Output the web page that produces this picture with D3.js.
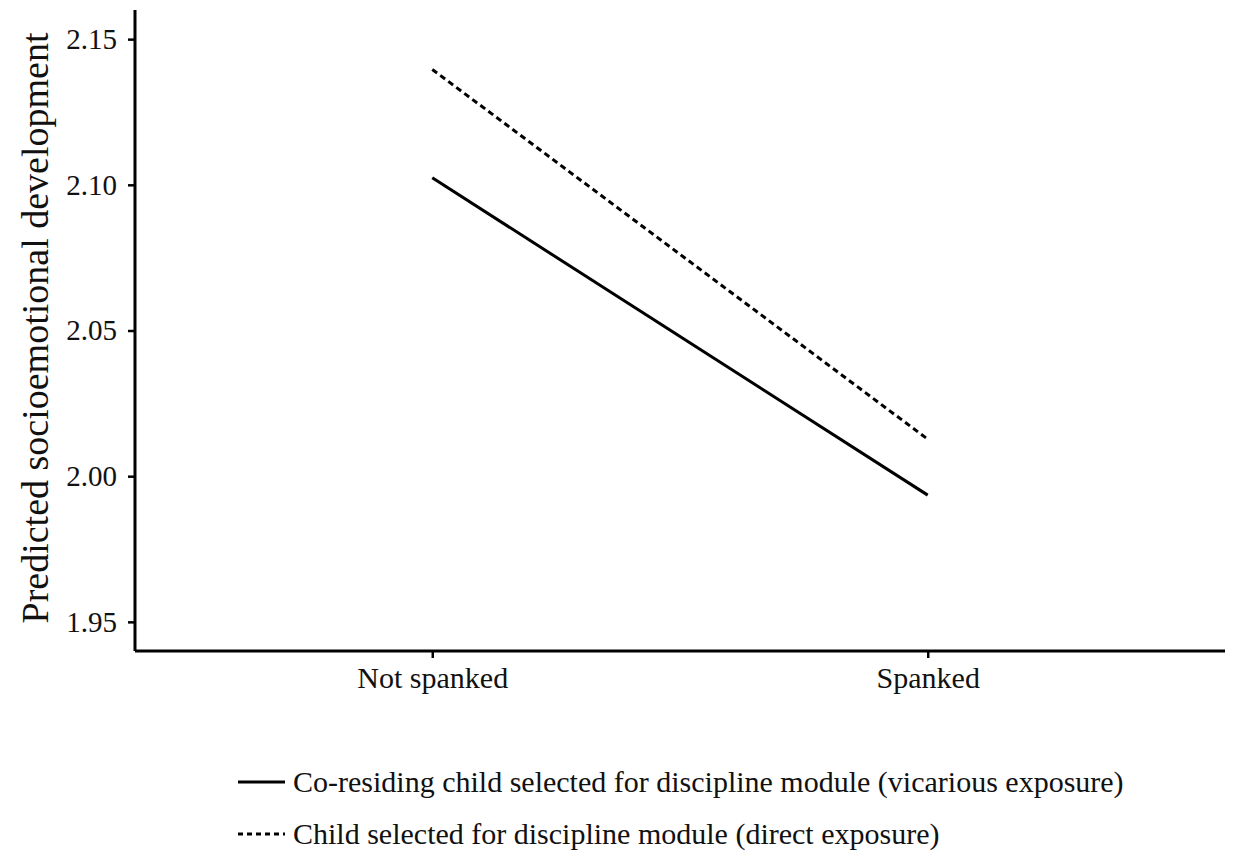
<!DOCTYPE html>
<html>
<head>
<meta charset="utf-8">
<script src="https://cdn.jsdelivr.net/npm/d3@7"></script>
<style>
  body { margin: 0; background: #fff; }
  svg text { font-family: "Liberation Serif", "Times New Roman", serif; fill: #111; }
</style>
</head>
<body>
<svg id="chart" width="1233" height="856"></svg>
<script>
const categories = ["Not spanked", "Spanked"];
const vicarious = [2.1024, 1.9935];
const direct = [2.1396, 2.0127];
const yTicks = [1.95, 2.00, 2.05, 2.10, 2.15];
const seriesNames = [
  "Co-residing child selected for discipline module (vicarious exposure)",
  "Child selected for discipline module (direct exposure)"
];

const svg = d3.select("#chart");
const margin = { top: 10, right: 8, bottom: 205, left: 135 };
const width = 1233 - margin.left - margin.right;
const height = 856 - margin.top - margin.bottom;

const g = svg.append("g").attr("transform", `translate(${margin.left},${margin.top})`);

const x = d3.scalePoint().domain(categories).range([0, width]).padding(0.6);
const y = d3.scaleLinear().domain([1.94, 2.16]).range([height, 0]);

const series = [
  { name: seriesNames[0], values: vicarious, dash: null },
  { name: seriesNames[1], values: direct, dash: "6,4" }
];

const line = d3.line()
  .x((d, i) => x(categories[i]))
  .y((d) => y(d));

g.selectAll("path.series")
  .data(series)
  .enter()
  .append("path")
  .attr("class", "series")
  .attr("d", (d) => line(d.values))
  .attr("fill", "none")
  .attr("stroke", "#000")
  .attr("stroke-width", 3)
  .attr("stroke-dasharray", (d) => d.dash);

// axes
const yAxis = g.append("g")
  .call(d3.axisLeft(y).tickValues(yTicks).tickFormat(d3.format(".2f")).tickSize(7).tickPadding(11));
const xAxis = g.append("g")
  .attr("transform", `translate(0,${height})`)
  .call(d3.axisBottom(x).tickSize(7).tickPadding(9));

for (const ax of [yAxis, xAxis]) {
  ax.select(".domain").attr("stroke", "#000").attr("stroke-width", 3);
  ax.selectAll(".tick line").attr("stroke", "#000").attr("stroke-width", 2.5);
  ax.selectAll(".tick text").attr("fill", "#111")
    .attr("font-family", "Liberation Serif, Times New Roman, serif");
}
yAxis.selectAll(".tick text").attr("font-size", 29);
xAxis.selectAll(".tick text").attr("font-size", 30);
// plain axis lines, no outer tick stubs
yAxis.select(".domain").attr("d", `M0,0V${height}`);
xAxis.select(".domain").attr("d", `M0,0H${width}`);

svg.append("text")
  .attr("transform", `translate(48,${328}) rotate(-90)`)
  .attr("text-anchor", "middle")
  .attr("font-size", 38)
  .text("Predicted socioemotional development");

// legend
const legend = svg.append("g").attr("transform", "translate(238,782)");
const items = legend.selectAll("g")
  .data(series)
  .enter()
  .append("g")
  .attr("transform", (d, i) => `translate(0,${i * 52})`);

items.append("line")
  .attr("x1", 0).attr("x2", 47)
  .attr("y1", 0).attr("y2", 0)
  .attr("stroke", "#000")
  .attr("stroke-width", 3)
  .attr("stroke-dasharray", (d) => d.dash ? "5,4" : null);

items.append("text")
  .attr("x", 55)
  .attr("y", 10)
  .attr("font-size", 30)
  .text((d) => d.name);
</script>
</body>
</html>
